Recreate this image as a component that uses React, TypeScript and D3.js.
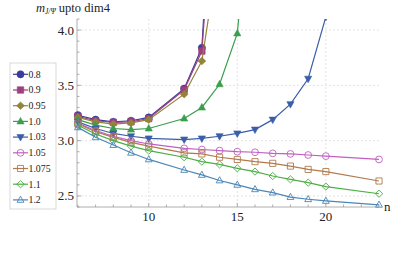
import React from "react";
import * as d3 from "d3";

// n values along the x axis (n = 11 is missing in the source)
const nValues = [6, 7, 8, 9, 10, 12, 13, 14, 15, 16, 17, 18, 19, 20, 23];

// one array per curve, aligned with nValues (the diverging ones stop early)
const v08 = [3.23, 3.19, 3.17, 3.18, 3.21, 3.47, 3.84, 6.6];
const v09 = [3.22, 3.18, 3.165, 3.17, 3.2, 3.46, 3.81, 6.0];
const v095 = [3.21, 3.17, 3.15, 3.16, 3.19, 3.42, 3.72, 4.77];
const v10 = [3.19, 3.14, 3.11, 3.1, 3.11, 3.2, 3.3, 3.51, 3.97, 5.7];
const v103 = [3.17, 3.11, 3.065, 3.04, 3.02, 3.01, 3.02, 3.04, 3.065, 3.1, 3.19, 3.33, 3.56, 4.12, 9.0];
const v105 = [3.16, 3.09, 3.04, 3.0, 2.97, 2.93, 2.92, 2.91, 2.9, 2.895, 2.885, 2.88, 2.87, 2.86, 2.83];
const v1075 = [3.15, 3.08, 3.03, 2.985, 2.95, 2.89, 2.88, 2.85, 2.83, 2.81, 2.795, 2.77, 2.74, 2.72, 2.635];
const v11 = [3.14, 3.06, 3.0, 2.95, 2.91, 2.85, 2.81, 2.785, 2.75, 2.72, 2.68, 2.65, 2.62, 2.585, 2.52];
const v12 = [3.12, 3.03, 2.96, 2.89, 2.83, 2.735, 2.69, 2.64, 2.6, 2.56, 2.53, 2.49, 2.47, 2.455, 2.42];

const labels = ["0.8", "0.9", "0.95", "1.0", "1.03", "1.05", "1.075", "1.1", "1.2"];
const values = [v08, v09, v095, v10, v103, v105, v1075, v11, v12];
const colors = ["#3b3b9e", "#9e3f7f", "#94843a", "#3a9e4c", "#3b5ea8", "#c060c0", "#b07a4e", "#4cae44", "#4a86b8"];
const shapes = ["circle", "square", "diamond", "triUp", "triDown", "circle", "square", "diamond", "triUp"];
const filled = [true, true, true, true, true, false, false, false, false];

const xTicks = [10, 15, 20];
const yTicks = [2.5, 3.0, 3.5, 4.0];

const W = 399, H = 261;
const left = 77, right = 379, top = 19, bottom = 207;
const FONT = "Liberation Serif";

const x = d3.scaleLinear().domain([5.95, 23]).range([left, right]);
const y = d3.scaleLinear().domain([2.4, 4.1]).range([bottom, top]);

function markerPath(shape: string, open: boolean): string {
  const s = open ? 3.4 : 3.6;
  if (shape === "circle") return d3.symbol(d3.symbolCircle, Math.PI * s * s)()!;
  if (shape === "square") return `M${-s * 0.9},${-s * 0.9}H${s * 0.9}V${s * 0.9}H${-s * 0.9}Z`;
  if (shape === "diamond") return `M0,${-s * 1.05}L${s * 1.1},0L0,${s * 1.05}L${-s * 1.1},0Z`;
  if (shape === "triUp") return `M0,${-s * 1.1}L${s},${s * 0.7}L${-s},${s * 0.7}Z`;
  return `M0,${s * 1.1}L${s},${-s * 0.7}L${-s},${-s * 0.7}Z`;
}

export default function App() {
  const line = d3
    .line<number>()
    .x((_, i) => x(nValues[i]))
    .y((d) => y(d));

  const xMinor = d3.range(6, 23.01, 1).filter((d) => !xTicks.includes(d));
  const yMinor = d3.range(2.4, 4.101, 0.1).filter((d) => !yTicks.some((t) => Math.abs(t - d) < 1e-6));

  return (
    <svg width={W} height={H} style={{ position: "absolute", left: 0, top: 0, background: "#fff" }}>
      <defs>
        <clipPath id="plotClip">
          <rect x={0} y={top} width={W} height={H - top} />
        </clipPath>
      </defs>

      {/* grid */}
      <g stroke="#dcdcdc" strokeWidth={0.8} strokeDasharray="2,2">
        {xTicks.map((t) => (
          <line key={"gx" + t} x1={x(t)} x2={x(t)} y1={top} y2={bottom} />
        ))}
        {yTicks.map((t) => (
          <line key={"gy" + t} x1={left} x2={right} y1={y(t)} y2={y(t)} />
        ))}
      </g>

      {/* axes */}
      <g stroke="#9a9a9a" strokeWidth={0.8}>
        <line x1={left} x2={left} y1={top} y2={bottom} />
        <line x1={left} x2={right} y1={bottom} y2={bottom} />
        {xTicks.map((t) => (
          <line key={"tx" + t} x1={x(t)} x2={x(t)} y1={bottom} y2={bottom - 4} />
        ))}
        {xMinor.map((t) => (
          <line key={"mx" + t} x1={x(t)} x2={x(t)} y1={bottom} y2={bottom - 2.5} />
        ))}
        {yTicks.map((t) => (
          <line key={"ty" + t} x1={left} x2={left + 4} y1={y(t)} y2={y(t)} />
        ))}
        {yMinor.map((t, i) => (
          <line key={"my" + i} x1={left} x2={left + 2.5} y1={y(t)} y2={y(t)} />
        ))}
      </g>

      {/* tick labels */}
      {xTicks.map((t) => (
        <text key={"lx" + t} x={x(t)} y={bottom + 14} textAnchor="middle" fontSize={13} fill="#222" style={{ fontFamily: FONT }}>{t}</text>
      ))}
      {yTicks.map((t) => (
        <text key={"ly" + t} x={left - 3} y={y(t) + 4.5} textAnchor="end" fontSize={13} fill="#222" style={{ fontFamily: FONT }}>{d3.format(".1f")(t)}</text>
      ))}
      <text x={384} y={211} fontSize={13} fill="#222" style={{ fontFamily: FONT }}>n</text>
      <text x={36} y={12} fontSize={12.5} fill="#222" style={{ fontFamily: FONT }}>
        <tspan fontStyle="italic">m</tspan>
        <tspan fontStyle="italic" fontSize={7.5} dy={2}>J/Ψ</tspan>
        <tspan dy={-2}> upto dim4</tspan>
      </text>

      {/* curves */}
      <g clipPath="url(#plotClip)">
        {values.map((vals, k) => (
          <g key={"s" + k}>
            <path d={line(vals)!} fill="none" stroke={colors[k]} strokeWidth={1.2} />
            {vals.map((v, i) => (
              <path
                key={i}
                transform={`translate(${x(nValues[i])},${y(v)})`}
                d={markerPath(shapes[k], !filled[k])}
                fill={filled[k] ? colors[k] : "none"}
                stroke={colors[k]}
                strokeWidth={filled[k] ? 0.6 : 0.9}
              />
            ))}
          </g>
        ))}
      </g>

      {/* legend */}
      <rect x={10} y={63} width={46} height={146} fill="#fff" stroke="#cfcfcf" strokeWidth={0.8} />
      {labels.map((lab, k) => {
        const ly = 74.3 + k * 15.7;
        return (
          <g key={"lg" + k}>
            <line x1={13} x2={28} y1={ly} y2={ly} stroke={colors[k]} strokeWidth={1.2} />
            <path
              transform={`translate(20.5,${ly})`}
              d={markerPath(shapes[k], !filled[k])}
              fill={filled[k] ? colors[k] : "none"}
              stroke={colors[k]}
              strokeWidth={filled[k] ? 0.6 : 0.9}
            />
            <text x={28.5} y={ly + 3.3} fontSize={9.8} fill="#222" style={{ fontFamily: FONT }}>{lab}</text>
          </g>
        );
      })}
    </svg>
  );
}
